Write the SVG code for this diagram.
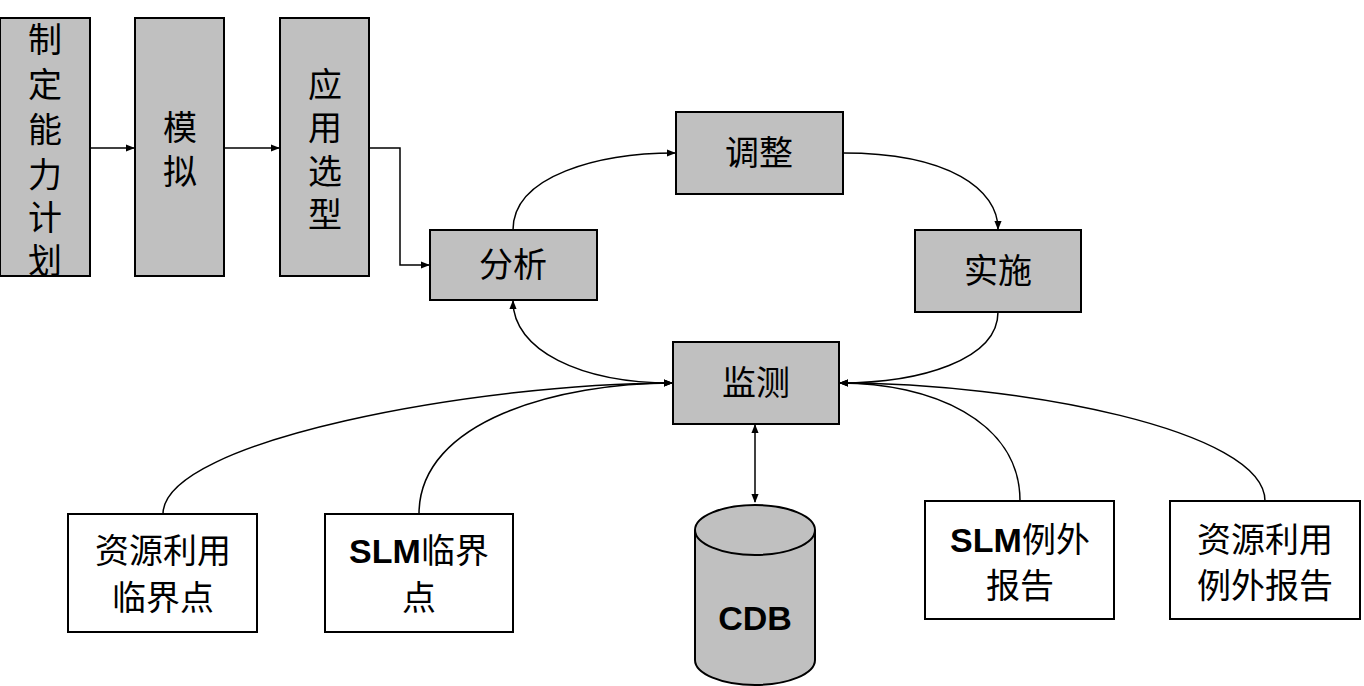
<svg xmlns="http://www.w3.org/2000/svg" width="1364" height="686" viewBox="0 0 1364 686">
<defs>
<marker id="a" viewBox="0 0 10 10" refX="9" refY="5" markerWidth="9" markerHeight="9" orient="auto-start-reverse" markerUnits="userSpaceOnUse"><path d="M0,1 L10,5 L0,9 z" fill="#000"/></marker>
<style>
.g{fill:#C0C0C0;stroke:#000;stroke-width:2}
.w{fill:#fff;stroke:#000;stroke-width:2}
.t{font-family:"Liberation Sans","Noto Sans CJK SC",sans-serif;font-size:34px;text-anchor:middle;fill:#000}
.c{fill:none;stroke:#000;stroke-width:1.5}
</style>
</defs>
<rect width="1364" height="686" fill="#fff"/>
<g id="n1"><rect class="g" x="0" y="18" width="90" height="258"/>
<text class="t" x="45"><tspan x="45" y="52">制</tspan><tspan x="45" y="97">定</tspan><tspan x="45" y="142">能</tspan><tspan x="45" y="187">力</tspan><tspan x="45" y="230">计</tspan><tspan x="45" y="273">划</tspan></text></g>
<g id="n2"><rect class="g" x="135" y="18" width="89" height="258"/>
<text class="t"><tspan x="180" y="140">模</tspan><tspan x="180" y="184">拟</tspan></text></g>
<g id="n3"><rect class="g" x="280" y="18" width="89" height="258"/>
<text class="t"><tspan x="325" y="97">应</tspan><tspan x="325" y="140">用</tspan><tspan x="325" y="184">选</tspan><tspan x="325" y="227">型</tspan></text></g>
<g id="n4"><rect class="g" x="430" y="230" width="167" height="70"/><text class="t" x="513" y="277">分析</text></g>
<g id="n5"><rect class="g" x="676" y="112" width="167" height="82"/><text class="t" x="759" y="165">调整</text></g>
<g id="n6"><rect class="g" x="915" y="230" width="166" height="82"/><text class="t" x="998" y="283">实施</text></g>
<g id="n7"><rect class="g" x="673" y="342" width="166" height="82"/><text class="t" x="756" y="395">监测</text></g>
<g id="n8"><rect class="w" x="68" y="514" width="189" height="118"/><text class="t"><tspan x="163" y="563">资源利用</tspan><tspan x="163" y="610">临界点</tspan></text></g>
<g id="n9"><rect class="w" x="325" y="514" width="188" height="118"/><text class="t"><tspan x="419" y="563"><tspan font-weight="bold">SLM</tspan>临界</tspan><tspan x="419" y="610">点</tspan></text></g>
<g id="n10"><rect class="w" x="925" y="501" width="189" height="118"/><text class="t"><tspan x="1020" y="552"><tspan font-weight="bold">SLM</tspan>例外</tspan><tspan x="1020" y="598">报告</tspan></text></g>
<g id="n11"><rect class="w" x="1170" y="501" width="190" height="118"/><text class="t"><tspan x="1265" y="552">资源利用</tspan><tspan x="1265" y="598">例外报告</tspan></text></g>
<g id="n12"><path class="g" d="M695,530 L695,660 A60,25 0 0 0 815,660 L815,530"/><ellipse class="g" cx="755" cy="530" rx="60" ry="25"/><text class="t" x="755" y="630" font-weight="bold">CDB</text></g>
<g id="connectors">
<path class="c" d="M90,148 L134,148" marker-end="url(#a)"/>
<path class="c" d="M224,148 L279,148" marker-end="url(#a)"/>
<path class="c" d="M369,148 L400,148 L400,265 L429,265" marker-end="url(#a)"/>
<path class="c" d="M513,230 C513,175 600,153 675,153" marker-end="url(#a)"/>
<path class="c" d="M843,153 C950,153 998,190 998,229" marker-end="url(#a)"/>
<path class="c" d="M998,312 C998,360 920,383 840,383" marker-end="url(#a)"/>
<path class="c" d="M672,383 C580,383 513,350 513,301" marker-start="url(#a)" marker-end="url(#a)"/>
<path class="c" d="M755,425 L755,502" marker-start="url(#a)" marker-end="url(#a)"/>
<path class="c" d="M163,514 C163,440 480,383 672,383" marker-end="url(#a)"/>
<path class="c" d="M419,514 C419,420 560,383 672,383" marker-end="url(#a)"/>
<path class="c" d="M1020,501 C1020,420 930,383 840,383" marker-end="url(#a)"/>
<path class="c" d="M1265,501 C1265,430 1020,383 840,383" marker-end="url(#a)"/>
</g>
</svg>
